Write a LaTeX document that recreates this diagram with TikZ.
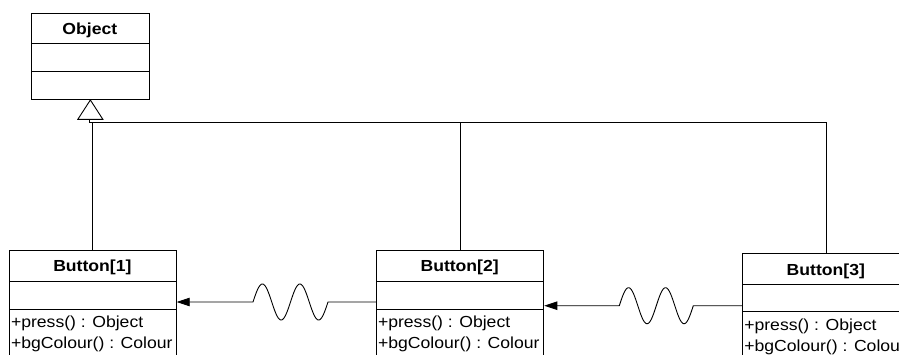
\documentclass[tikz,border=0pt]{standalone}
\usepackage{fontspec}
\newfontfamily\umlfont{Liberation Sans}[FakeStretch=1.1]
\usetikzlibrary{arrows.meta}
\begin{document}
\begin{tikzpicture}[x=1pt,y=-1pt,line width=1pt,
  classbox/.style={draw,rectangle,anchor=north west,inner sep=0pt},
  classtitle/.style={font=\umlfont\bfseries\fontsize{16}{18}\selectfont,anchor=base,inner sep=0pt},
  member/.style={font=\umlfont\fontsize{16}{18}\selectfont,anchor=base west,inner sep=0pt},
  assoc/.style={-{Triangle[length=13pt,width=8.5pt]}},
  wire/.style={line width=0.9pt}]
\useasboundingbox (0,0) rectangle (899,354);
\fill[white] (0,0) rectangle (899,354);
\clip (0,0) rectangle (899,354);

% Superclass
\node[classbox,minimum width=117.7pt,minimum height=86.3pt] (obj) at (31,12.7) {};
\draw (31,43.7) -- (148.7,43.7);
\draw (31,71.3) -- (148.7,71.3);
\node[classtitle] (objname) at (89.85,34) {Object};

% Button[1]
\node[classbox,minimum width=166.7pt,minimum height=120pt] (b1) at (9,250) {};
\draw (9,281.7) -- (175.7,281.7);
\draw (9,309.3) -- (175.7,309.3);
\node[classtitle] (b1name) at (92.35,271.7) {Button[1]};
\node[member] (b1m1) at (10.5,327.3) {+press() : Object};
\node[member] (b1m2) at (10.5,348.3) {+bgColour() : Colour};

% Button[2]
\node[classbox,minimum width=167.3pt,minimum height=120pt] (b2) at (376,250) {};
\draw (376,281.7) -- (543.3,281.7);
\draw (376,309.3) -- (543.3,309.3);
\node[classtitle] (b2name) at (459.65,271.7) {Button[2]};
\node[member] (b2m1) at (377.5,327.3) {+press() : Object};
\node[member] (b2m2) at (377.5,348.3) {+bgColour() : Colour};

% Button[3]
\node[classbox,minimum width=167pt,minimum height=120pt] (b3) at (742.3,253.3) {};
\draw (742.3,284.3) -- (909.3,284.3);
\draw (742.3,311.7) -- (909.3,311.7);
\node[classtitle] (b3name) at (825.8,275) {Button[3]};
\node[member] (b3m1) at (743.8,330.3) {+press() : Object};
\node[member] (b3m2) at (743.8,351) {+bgColour() : Colour};

% Generalisation tree with hollow triangle under the superclass
\coordinate (j) at (89.85,122);
\coordinate (tb) at (89.85,118.3);
\draw[wire] (tb) -- (j) -- (b3.north |- j);
\draw[wire,fill=white,line join=miter] (obj.south) -- ++(12.5,19.3) -- ++(-25,0) -- cycle;
\draw[wire] (b1.north |- j) -- (b1.north);
\draw[wire] (b2.north |- j) -- (b2.north);
\draw[wire] (b3.north |- j) -- (b3.north);

% Wavy associations
\coordinate (w1r) at (328,302);
\coordinate (w1l) at (253,302);
\draw[wire,assoc] (b2.west |- w1r) -- (w1r)
  -- plot[domain=75:0,samples=121,smooth] ({253+\x},{302-18*sin(\x*9.6)})
  -- (b1.east |- w1l);

\coordinate (w2r) at (693.3,305.7);
\coordinate (w2l) at (619.3,305.7);
\draw[wire,assoc] (b3.west |- w2r) -- (w2r)
  -- plot[domain=74:0,samples=121,smooth] ({619.3+\x},{305.7-18*sin(\x*9.7297)})
  -- (b2.east |- w2l);
\end{tikzpicture}
\end{document}
